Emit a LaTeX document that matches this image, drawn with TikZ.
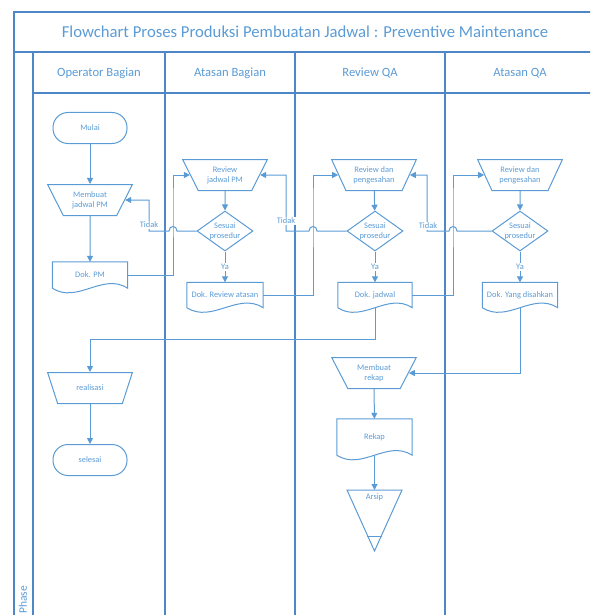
\documentclass[tikz,border=0pt]{standalone}
\usepackage{fontspec}
\setmainfont{Carlito}
\usetikzlibrary{shapes.geometric,arrows.meta,calc}
\definecolor{biru}{RGB}{91,155,213}
\definecolor{bingkai}{RGB}{78,135,200}
\begin{document}
\begin{tikzpicture}[x=1pt,y=-1pt,
    garis/.style={draw=biru,line width=1pt},
    panah/.style={garis,-{Triangle[length=6pt,width=6pt]}},
    teks/.style={text=biru,font=\fontsize{8.4}{9.8}\selectfont,align=center},
    terminal/.style={teks,garis,rectangle,rounded corners=15pt,minimum width=74,minimum height=31},
    manual/.style={teks,garis,trapezium,shape border rotate=180,trapezium left angle=60,
        trapezium right angle=60,trapezium stretches=true,minimum width=85,minimum height=31,inner sep=1pt},
    keputusan/.style={teks,garis,diamond,aspect=1.4,inner sep=0pt,minimum width=56,minimum height=40},
    dokumen/.style={teks,rectangle,minimum width=75,minimum height=25},
    ket/.style={teks,fill=white,inner sep=1pt},
    kepala/.style={text=biru,font=\fontsize{12.6}{14}\selectfont}]
    \clip (0,0) rectangle (590,615);

    % kerangka swimlane
    \draw[bingkai,line width=1.1pt] (14,12) rectangle (596,640);
    \draw[bingkai,line width=1.1pt] (14,52) -- (596,52);
    \draw[bingkai,line width=1.1pt] (33,93) -- (596,93);
    \foreach \x in {33,165,295,445}
        \draw[bingkai,line width=1.1pt] (\x,52) -- (\x,640);

    \node[kepala,font=\fontsize{16.7}{18}\selectfont] (judul) at (305,32)
        {Flowchart Proses Produksi Pembuatan Jadwal : Preventive Maintenance};
    \node[kepala] (lane1) at (99,73) {Operator Bagian};
    \node[kepala] (lane2) at (230,73) {Atasan Bagian};
    \node[kepala] (lane3) at (370,73) {Review QA};
    \node[kepala] (lane4) at (520,73) {Atasan QA};
    \node[kepala,rotate=90,font=\fontsize{11.5}{13}\selectfont] (fase) at (23,600) {Phase};

    % simbol
    \node[terminal] (mulai) at (90,128) {Mulai};
    \node[manual] (mem) at (90,200) {Membuat\\jadwal PM};
    \node[dokumen,minimum height=26] (dokpm) at (90,275) {Dok. PM};

    \node[manual] (rev1) at (225,175) {Review\\jadwal PM};
    \node[keputusan] (dec1) at (225,231) {Sesuai\\prosedur};
    \node[dokumen,minimum width=76] (dokrev) at (225,295) {Dok. Review atasan};

    \node[manual] (rev2) at (374,175) {Review dan\\pengesahan};
    \node[keputusan] (dec2) at (375,231) {Sesuai\\prosedur};
    \node[dokumen,minimum width=74] (dokjad) at (375,295) {Dok. jadwal};

    \node[manual] (rev3) at (520,175) {Review dan\\pengesahan};
    \node[keputusan] (dec3) at (520,231) {Sesuai\\prosedur};
    \node[dokumen] (doksah) at (520,295) {Dok. Yang disahkan};

    \node[manual] (real) at (90,388) {realisasi};
    \node[terminal] (selesai) at (90,460) {selesai};

    \node[manual] (mrekap) at (374,373) {Membuat\\rekap};
    \node[dokumen,minimum height=36] (rekap) at (374.5,437) {Rekap};
    \node[teks,anchor=north,inner sep=4pt] (arsip) at (374.5,490) {Arsip};
    \draw[garis] ([xshift=-27.5pt]arsip.north) -- ([xshift=27.5pt]arsip.north)
        -- ([yshift=-61pt]arsip.north) -- cycle;
    \draw[garis] ([xshift=-7.5pt,yshift=-46pt]arsip.north) -- ([xshift=7.5pt,yshift=-46pt]arsip.north);

    \foreach \d in {dokpm,dokrev,dokjad,doksah,rekap}
        \draw[garis] (\d.south west) -- (\d.north west) -- (\d.north east) -- (\d.south east)
            .. controls ($(\d.south east)!.33!(\d.south west)+(0,-16)$)
            and ($(\d.south west)!.33!(\d.south east)+(0,16)$) .. (\d.south west) -- cycle;

    % alur
    \draw[panah] (mulai) -- (mem);
    \draw[panah] (mem) -- (dokpm);
    \draw[panah] (dokpm.east) -| (173,200) |- (rev1.west);
    \draw[panah] (rev1) -- (dec1);
    \draw[panah] (dec1) -- node[ket] (ya1) {Ya} (dokrev);
    \draw[panah] (dec1.west) -- (177,231) .. controls (177,225) and (169,225) .. (169,231)
        -- (149,231) |- (mem.east);
    \node[ket] (tidak1) at (149,225) {Tidak};

    \draw[panah] (dokrev.east) -| (313,200) |- (rev2.west);
    \draw[panah] (rev2) -- (dec2);
    \draw[panah] (dec2) -- node[ket] (ya2) {Ya} (dokjad);
    \draw[panah] (dec2.west) -- (317,231) .. controls (317,225) and (309,225) .. (309,231)
        -- (286,231) |- (rev1.east);
    \node[ket] (tidak2) at (286,221) {Tidak};

    \draw[panah] (dokjad.east) -| (453,200) |- (rev3.west);
    \draw[panah] (rev3) -- (dec3);
    \draw[panah] (dec3) -- node[ket] (ya3) {Ya} (doksah);
    \draw[panah] (dec3.west) -- (457,231) .. controls (457,225) and (449,225) .. (449,231)
        -- (427,231) |- (rev2.east);
    \node[ket] (tidak3) at (428,226) {Tidak};

    \draw[panah] (dokjad.south) -- (375,339) -| (real.north);
    \draw[panah] (real) -- (selesai);
    \draw[panah] (doksah.south) |- (mrekap.east);
    \draw[panah] (mrekap) -- (rekap);
    \draw[panah] (rekap) -- (arsip.north);
\end{tikzpicture}
\end{document}
